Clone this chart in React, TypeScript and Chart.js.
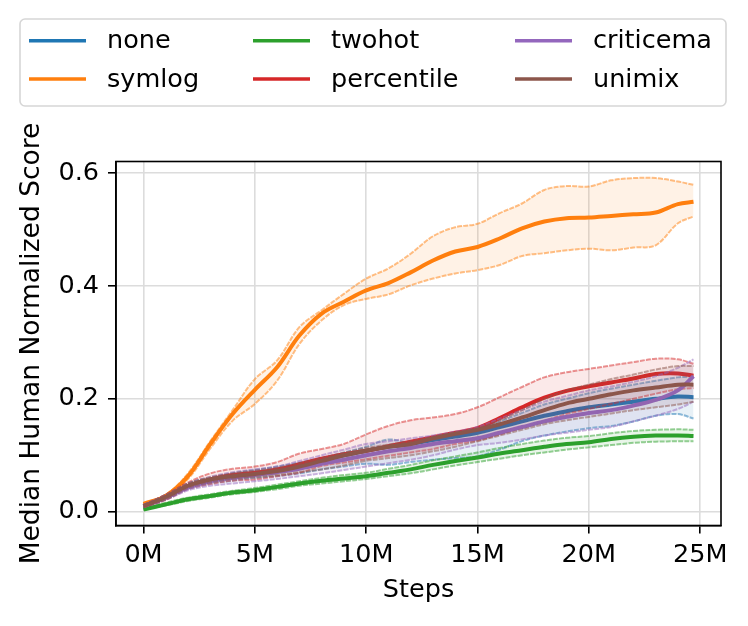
import React, { useRef, useEffect } from "react";
import { Chart, registerables } from "chart.js";

Chart.register(...registerables);

const FONT = "'DejaVu Sans', sans-serif";

const steps = [0, 1, 2, 3, 4, 5, 6, 7, 8, 9, 10, 11, 12, 13, 14, 15, 16, 17, 18, 19, 20, 21, 22, 23, 24, 24.7];
const xTicks = [0, 5, 10, 15, 20, 25];
const yTicks = [0, 0.2, 0.4, 0.6];

const noneMean = [0.010, 0.026, 0.045, 0.056, 0.063, 0.068, 0.073, 0.080, 0.090, 0.100, 0.108, 0.115, 0.120, 0.127, 0.133, 0.140, 0.150, 0.160, 0.170, 0.178, 0.185, 0.190, 0.195, 0.200, 0.204, 0.203];
const noneUpper = [0.012, 0.030, 0.050, 0.060, 0.068, 0.074, 0.080, 0.087, 0.095, 0.105, 0.115, 0.128, 0.122, 0.126, 0.135, 0.145, 0.160, 0.175, 0.190, 0.200, 0.210, 0.218, 0.225, 0.232, 0.238, 0.240];
const noneLower = [0.008, 0.022, 0.040, 0.050, 0.055, 0.060, 0.063, 0.068, 0.075, 0.080, 0.085, 0.083, 0.088, 0.092, 0.095, 0.098, 0.110, 0.125, 0.135, 0.142, 0.148, 0.152, 0.160, 0.170, 0.173, 0.165];

const symlogMean = [0.014, 0.028, 0.063, 0.120, 0.173, 0.216, 0.256, 0.312, 0.351, 0.372, 0.392, 0.405, 0.424, 0.445, 0.461, 0.469, 0.484, 0.502, 0.514, 0.520, 0.521, 0.524, 0.527, 0.530, 0.545, 0.549];
const symlogUpper = [0.015, 0.030, 0.068, 0.125, 0.180, 0.235, 0.268, 0.327, 0.357, 0.386, 0.413, 0.431, 0.457, 0.488, 0.504, 0.510, 0.529, 0.546, 0.570, 0.577, 0.576, 0.587, 0.591, 0.591, 0.585, 0.579];
const symlogLower = [0.012, 0.026, 0.058, 0.112, 0.161, 0.191, 0.232, 0.297, 0.339, 0.366, 0.377, 0.385, 0.401, 0.413, 0.422, 0.428, 0.437, 0.453, 0.458, 0.463, 0.466, 0.463, 0.468, 0.472, 0.511, 0.523];

const twohotMean = [0.004, 0.013, 0.022, 0.028, 0.034, 0.038, 0.044, 0.050, 0.055, 0.059, 0.063, 0.069, 0.075, 0.083, 0.090, 0.096, 0.103, 0.109, 0.115, 0.120, 0.123, 0.129, 0.133, 0.135, 0.135, 0.134];
const twohotUpper = [0.006, 0.016, 0.025, 0.031, 0.037, 0.042, 0.048, 0.054, 0.060, 0.065, 0.069, 0.076, 0.083, 0.091, 0.098, 0.105, 0.113, 0.120, 0.126, 0.131, 0.134, 0.139, 0.143, 0.145, 0.146, 0.145];
const twohotLower = [0.004, 0.011, 0.019, 0.025, 0.031, 0.035, 0.040, 0.046, 0.050, 0.054, 0.058, 0.063, 0.068, 0.075, 0.082, 0.088, 0.094, 0.100, 0.105, 0.110, 0.114, 0.118, 0.122, 0.124, 0.125, 0.125];

const percentileMean = [0.010, 0.025, 0.046, 0.057, 0.065, 0.069, 0.075, 0.084, 0.094, 0.102, 0.108, 0.116, 0.124, 0.132, 0.140, 0.148, 0.166, 0.185, 0.202, 0.214, 0.222, 0.229, 0.236, 0.244, 0.245, 0.241];
const percentileUpper = [0.012, 0.030, 0.052, 0.068, 0.076, 0.080, 0.088, 0.103, 0.111, 0.120, 0.137, 0.152, 0.162, 0.167, 0.173, 0.185, 0.203, 0.221, 0.238, 0.247, 0.253, 0.259, 0.265, 0.271, 0.270, 0.262];
const percentileLower = [0.008, 0.021, 0.040, 0.049, 0.055, 0.057, 0.063, 0.069, 0.081, 0.087, 0.093, 0.099, 0.105, 0.111, 0.120, 0.126, 0.137, 0.149, 0.161, 0.173, 0.182, 0.191, 0.200, 0.209, 0.217, 0.219];

const criticemaMean = [0.010, 0.025, 0.043, 0.054, 0.060, 0.065, 0.070, 0.076, 0.085, 0.092, 0.100, 0.107, 0.113, 0.120, 0.125, 0.130, 0.140, 0.150, 0.160, 0.168, 0.175, 0.180, 0.188, 0.198, 0.215, 0.240];
const criticemaUpper = [0.012, 0.030, 0.050, 0.062, 0.070, 0.075, 0.080, 0.090, 0.100, 0.110, 0.120, 0.125, 0.130, 0.135, 0.142, 0.150, 0.165, 0.180, 0.195, 0.205, 0.215, 0.222, 0.230, 0.240, 0.255, 0.270];
const criticemaLower = [0.008, 0.021, 0.038, 0.046, 0.050, 0.054, 0.058, 0.063, 0.068, 0.074, 0.080, 0.086, 0.092, 0.100, 0.110, 0.118, 0.122, 0.128, 0.135, 0.140, 0.145, 0.150, 0.160, 0.170, 0.182, 0.195];

const unimixMean = [0.010, 0.026, 0.046, 0.057, 0.063, 0.067, 0.072, 0.080, 0.090, 0.100, 0.108, 0.115, 0.120, 0.130, 0.138, 0.145, 0.155, 0.167, 0.180, 0.192, 0.200, 0.208, 0.215, 0.220, 0.225, 0.225];
const unimixUpper = [0.012, 0.030, 0.050, 0.061, 0.068, 0.073, 0.078, 0.086, 0.095, 0.104, 0.113, 0.119, 0.125, 0.132, 0.140, 0.148, 0.162, 0.180, 0.200, 0.215, 0.225, 0.235, 0.243, 0.252, 0.258, 0.258];
const unimixLower = [0.008, 0.022, 0.042, 0.052, 0.058, 0.061, 0.065, 0.070, 0.075, 0.082, 0.090, 0.095, 0.100, 0.107, 0.115, 0.125, 0.135, 0.145, 0.155, 0.162, 0.168, 0.174, 0.180, 0.185, 0.190, 0.195];

// plotting order (later = on top)
const methods = [
  { name: "none", rgb: "31, 119, 180", mean: noneMean, upper: noneUpper, lower: noneLower },
  { name: "symlog", rgb: "255, 127, 14", mean: symlogMean, upper: symlogUpper, lower: symlogLower },
  { name: "twohot", rgb: "44, 160, 44", mean: twohotMean, upper: twohotUpper, lower: twohotLower },
  { name: "percentile", rgb: "214, 39, 40", mean: percentileMean, upper: percentileUpper, lower: percentileLower },
  { name: "criticema", rgb: "148, 103, 189", mean: criticemaMean, upper: criticemaUpper, lower: criticemaLower },
  { name: "unimix", rgb: "140, 86, 75", mean: unimixMean, upper: unimixUpper, lower: unimixLower },
];

// legend is filled column-wise, like matplotlib with ncol=3
const legendCols = [29, 253, 515];
const legendRows = [40.7, 79];

const pts = (ys: number[]) => steps.map((x, i) => ({ x, y: ys[i] }));

const framePlugin = {
  id: "frame",
  afterDraw(chart: Chart) {
    const { ctx, chartArea: a } = chart;
    ctx.save();
    ctx.strokeStyle = "#000";
    ctx.lineWidth = 1.6;
    ctx.strokeRect(a.left, a.top, a.right - a.left, a.bottom - a.top);

    // legend box
    ctx.beginPath();
    ctx.roundRect(20, 19, 706, 87, 5);
    ctx.fillStyle = "rgba(255,255,255,0.8)";
    ctx.fill();
    ctx.strokeStyle = "#d6d6d6";
    ctx.lineWidth = 1.6;
    ctx.stroke();

    ctx.font = `25.5px ${FONT}`;
    ctx.textBaseline = "middle";
    ctx.textAlign = "left";
    methods.forEach((m, i) => {
      const x = legendCols[Math.floor(i / 2)];
      const y = legendRows[i % 2];
      ctx.beginPath();
      ctx.moveTo(x, y);
      ctx.lineTo(x + 57, y);
      ctx.strokeStyle = `rgb(${m.rgb})`;
      ctx.lineWidth = 3.5;
      ctx.stroke();
      ctx.fillStyle = "#000";
      ctx.fillText(m.name, x + 78, y + 1);
    });
    ctx.restore();
  },
};

export default function App() {
  const canvasRef = useRef<HTMLCanvasElement | null>(null);
  const chartRef = useRef<Chart | null>(null);

  useEffect(() => {
    if (!canvasRef.current) return;
    if (chartRef.current) chartRef.current.destroy();

    const datasets: any[] = [];
    methods.forEach((m, k) => {
      const base = 1000 - k * 10;
      datasets.push({
        label: m.name + " upper",
        data: pts(m.upper),
        borderColor: `rgba(${m.rgb}, 0.5)`,
        backgroundColor: `rgba(${m.rgb}, 0.1)`,
        borderWidth: 2,
        borderDash: [5, 1.2],
        fill: "+1",
        order: base - 1,
      });
      datasets.push({
        label: m.name + " lower",
        data: pts(m.lower),
        borderColor: `rgba(${m.rgb}, 0.5)`,
        borderWidth: 2,
        borderDash: [5, 1.2],
        fill: false,
        order: base - 2,
      });
      datasets.push({
        label: m.name,
        data: pts(m.mean),
        borderColor: `rgb(${m.rgb})`,
        borderWidth: 4,
        fill: false,
        order: base - 3,
      });
    });

    chartRef.current = new Chart(canvasRef.current, {
      type: "line",
      data: { datasets },
      plugins: [framePlugin],
      options: {
        animation: false,
        responsive: true,
        maintainAspectRatio: false,
        layout: { padding: { top: 161.5, right: 27, bottom: 0, left: 0 } },
        elements: {
          point: { radius: 0 },
          line: { tension: 0.35 },
        },
        plugins: {
          legend: { display: false },
          tooltip: { enabled: false },
        },
        scales: {
          x: {
            type: "linear",
            min: -1.235,
            max: 25.935,
            afterBuildTicks: (s: any) => {
              s.ticks = xTicks.map((v) => ({ value: v }));
            },
            afterFit: (s: any) => {
              s.height = 100.5;
            },
            ticks: {
              color: "#000",
              font: { family: FONT, size: 25.5 },
              padding: 7,
              maxRotation: 0,
              callback: (v: any) => `${v}M`,
            },
            grid: {
              color: "#dcdcdc",
              lineWidth: 1.6,
              tickColor: "#000",
              tickLength: 8,
              tickWidth: 1.6,
            },
            border: { display: true, color: "#000", width: 1.6 },
            title: {
              display: true,
              text: "Steps",
              color: "#000",
              font: { family: FONT, size: 25.5 },
              padding: { top: 0, bottom: 20.5 },
            },
          },
          y: {
            type: "linear",
            min: -0.0244,
            max: 0.6204,
            afterBuildTicks: (s: any) => {
              s.ticks = yTicks.map((v) => ({ value: v }));
            },
            afterFit: (s: any) => {
              s.width = 116;
            },
            ticks: {
              color: "#000",
              font: { family: FONT, size: 25.5 },
              padding: 9,
              callback: (v: any) => Number(v).toFixed(1),
            },
            grid: {
              color: "#dcdcdc",
              lineWidth: 1.6,
              tickColor: "#000",
              tickLength: 8,
              tickWidth: 1.6,
            },
            border: { display: true, color: "#000", width: 1.6 },
            title: {
              display: true,
              text: "Median Human Normalized Score",
              color: "#000",
              font: { family: FONT, size: 26.5 },
              padding: { top: 16, bottom: 0 },
            },
          },
        },
      },
    });

    return () => {
      if (chartRef.current) {
        chartRef.current.destroy();
        chartRef.current = null;
      }
    };
  }, []);

  return (
    <div style={{ position: "fixed", left: 0, top: 0, width: 748, height: 626, background: "#fff" }}>
      <canvas ref={canvasRef} />
    </div>
  );
}
